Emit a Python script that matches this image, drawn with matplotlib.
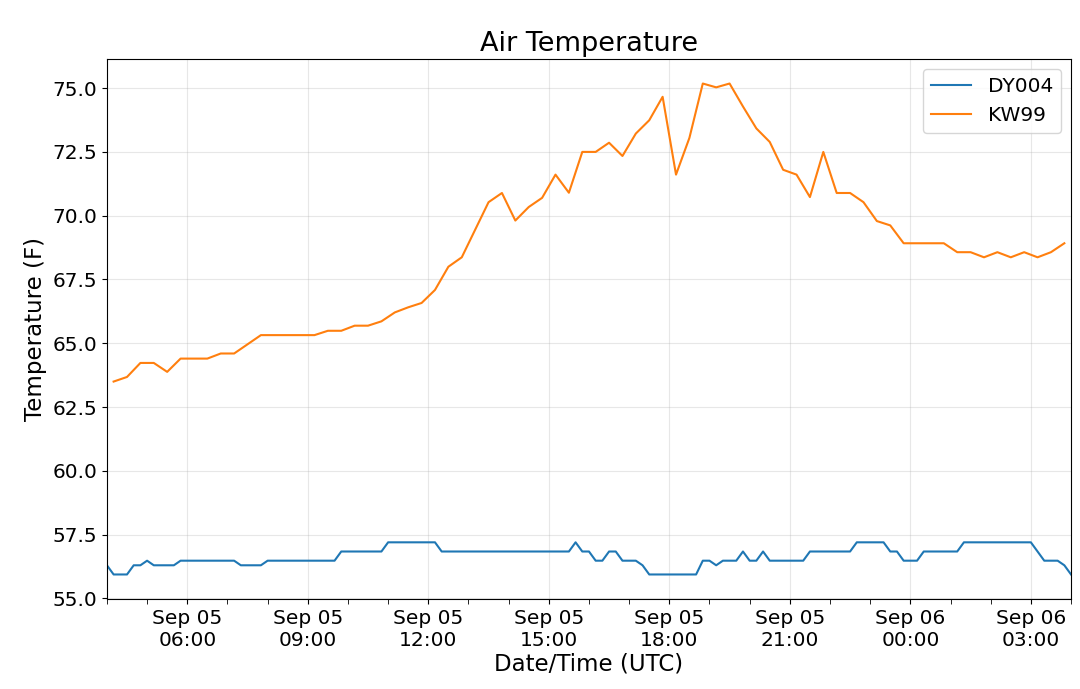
import matplotlib
matplotlib.use("Agg")
import matplotlib.pyplot as plt
import matplotlib.dates as mdates
import pandas as pd

# DY004: 10-minute observations
dy_start = "2019-09-05 04:00"
dy_freq = "10min"
dy004 = [
    56.3, 55.94, 55.94, 55.94, 56.3, 56.3, 56.48, 56.3, 56.3, 56.3,
    56.3, 56.48, 56.48, 56.48, 56.48, 56.48, 56.48, 56.48, 56.48, 56.48,
    56.3, 56.3, 56.3, 56.3, 56.48, 56.48, 56.48, 56.48, 56.48, 56.48,
    56.48, 56.48, 56.48, 56.48, 56.48, 56.84, 56.84, 56.84, 56.84, 56.84,
    56.84, 56.84, 57.2, 57.2, 57.2, 57.2, 57.2, 57.2, 57.2, 57.2,
    56.84, 56.84, 56.84, 56.84, 56.84, 56.84, 56.84, 56.84, 56.84, 56.84,
    56.84, 56.84, 56.84, 56.84, 56.84, 56.84, 56.84, 56.84, 56.84, 56.84,
    57.2, 56.84, 56.84, 56.48, 56.48, 56.84, 56.84, 56.48, 56.48, 56.48,
    56.3, 55.94, 55.94, 55.94, 55.94, 55.94, 55.94, 55.94, 55.94, 56.48,
    56.48, 56.3, 56.48, 56.48, 56.48, 56.84, 56.48, 56.48, 56.84, 56.48,
    56.48, 56.48, 56.48, 56.48, 56.48, 56.84, 56.84, 56.84, 56.84, 56.84,
    56.84, 56.84, 57.2, 57.2, 57.2, 57.2, 57.2, 56.84, 56.84, 56.48,
    56.48, 56.48, 56.84, 56.84, 56.84, 56.84, 56.84, 56.84, 57.2, 57.2,
    57.2, 57.2, 57.2, 57.2, 57.2, 57.2, 57.2, 57.2, 57.2, 56.84,
    56.48, 56.48, 56.48, 56.3, 55.94,
]

# KW99: 20-minute observations
kw_start = "2019-09-05 04:10"
kw_freq = "20min"
kw99 = [
    63.50, 63.68, 64.23, 64.23, 63.88, 64.40, 64.40, 64.40, 64.60, 64.60,
    64.96, 65.32, 65.32, 65.32, 65.32, 65.32, 65.49, 65.49, 65.69, 65.69,
    65.86, 66.21, 66.41, 66.58, 67.09, 68.00, 68.37, 69.45, 70.53, 70.89,
    69.81, 70.34, 70.70, 71.61, 70.90, 72.50, 72.50, 72.86, 72.34, 73.22,
    73.74, 74.66, 71.61, 73.05, 75.18, 75.03, 75.18, 74.28, 73.42, 72.89,
    71.80, 71.61, 70.73, 72.50, 70.89, 70.89, 70.53, 69.79, 69.62, 68.92,
    68.92, 68.92, 68.92, 68.57, 68.57, 68.37, 68.57, 68.37, 68.57, 68.37,
    68.57, 68.92,
]

series_names = ["DY004", "KW99"]
title = "Air Temperature"
xlabel = "Date/Time (UTC)"
ylabel = "Temperature (F)"

dy_times = pd.date_range(dy_start, periods=len(dy004), freq=dy_freq)
kw_times = pd.date_range(kw_start, periods=len(kw99), freq=kw_freq)

fig = plt.figure(figsize=(10.8, 6.89), dpi=100)
ax = fig.add_axes([0.099, 0.1306, 0.8927, 0.7838])

ax.plot(dy_times, dy004, color="#1f77b4", lw=1.5, label=series_names[0])
ax.plot(kw_times, kw99, color="#ff7f0e", lw=1.5, label=series_names[1])

ax.margins(x=0)
ax.xaxis.set_major_locator(mdates.HourLocator(byhour=range(0, 24, 3)))
ax.xaxis.set_minor_locator(mdates.HourLocator())
ax.xaxis.set_major_formatter(mdates.DateFormatter("%b %d\n%H:%M"))
ax.tick_params(axis="both", which="major", labelsize=14.5, length=3.5)
ax.tick_params(axis="x", which="minor", length=3.5)

ax.grid(True, which="major", color="#b0b0b0", alpha=0.3, lw=0.8)

ax.set_title(title, fontsize=19.5, pad=6)
ax.set_xlabel(xlabel, fontsize=16.5, labelpad=2)
ax.set_ylabel(ylabel, fontsize=16.5)
ax.legend(loc="upper right", fontsize=14.5)

fig.savefig("out.png", dpi=100)
